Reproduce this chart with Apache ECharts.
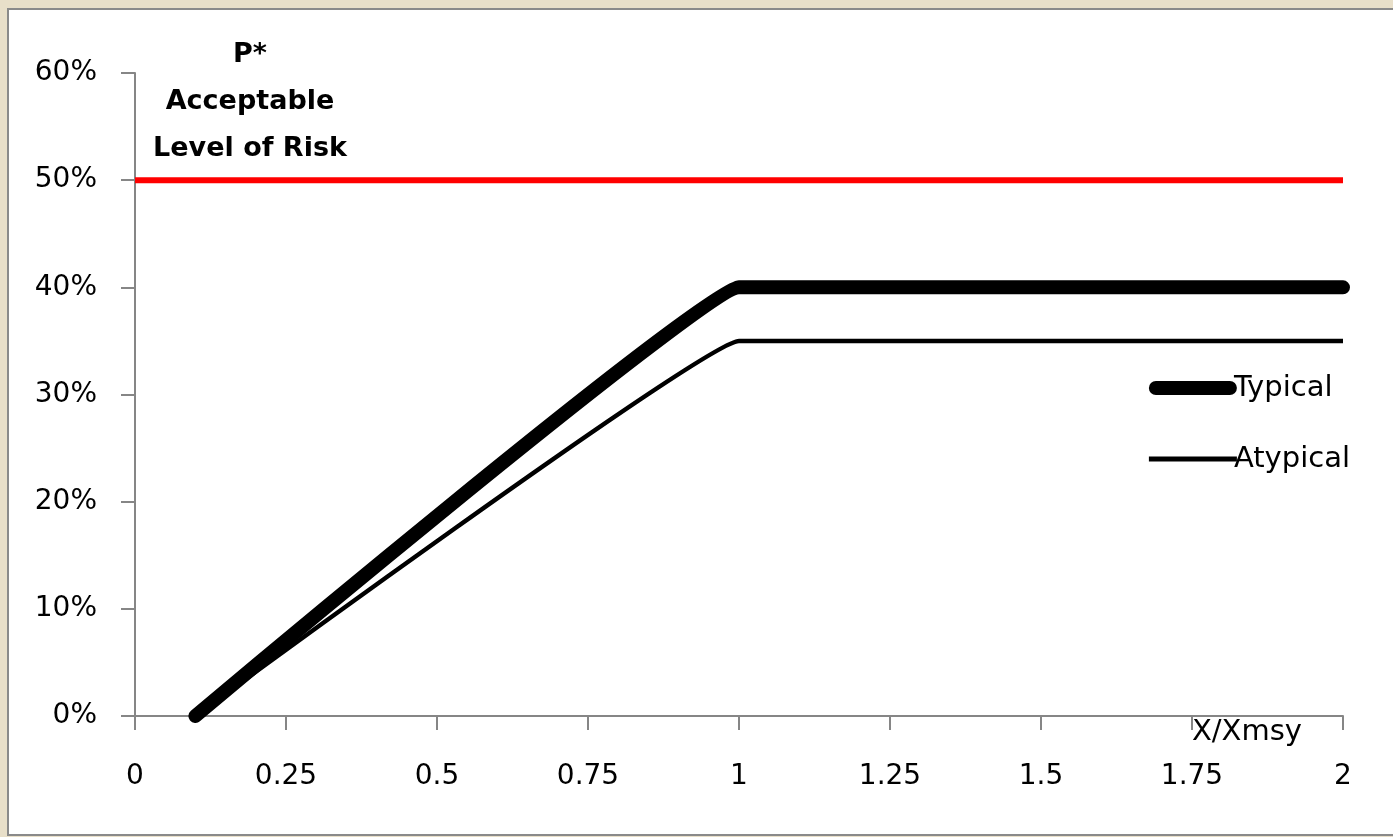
<!DOCTYPE html>
<html>
<head>
<meta charset="utf-8">
<script src="https://cdn.jsdelivr.net/npm/echarts@6/dist/echarts.min.js"></script>
<style>
  html, body { margin: 0; padding: 0; background: #e8dfc9; }
  #panel { position: absolute; left: 7px; top: 8px; width: 1400px; height: 828px;
           background: #ffffff; border: 2px solid #8a8a8a; box-sizing: border-box; }
  #chart { position: absolute; left: 0; top: 0; width: 1393px; height: 837px; }
</style>
</head>
<body>
<div id="panel"></div>
<div id="chart"></div>
<script>
// X/Xmsy ratio and probability of overfishing
const xTicks = [0, 0.25, 0.5, 0.75, 1, 1.25, 1.5, 1.75, 2];
const yTicks = [0, 0.1, 0.2, 0.3, 0.4, 0.5, 0.6];
const typicalX = [0.1, 1.0, 1.1, 2.0];
const typicalY = [0.0, 0.40, 0.40, 0.40];
const atypicalX = [0.1, 1.0, 1.1, 2.0];
const atypicalY = [0.0, 0.35, 0.35, 0.35];
const pStarX = [0, 2];
const pStarY = [0.5, 0.5];
const pStarLabel = 'P*\nAcceptable\nLevel of Risk';

const zip = (xs, ys) => xs.map((x, i) => [x, ys[i]]);
const font = '"DejaVu Sans", Verdana, sans-serif';
const axisGray = '#868686';

const chart = echarts.init(document.getElementById('chart'));
chart.setOption({
  animation: false,
  grid: { left: 135, top: 73, right: 50, bottom: 121, containLabel: false },
  xAxis: {
    type: 'value', min: xTicks[0], max: xTicks[xTicks.length - 1], interval: 0.25,
    name: 'X/Xmsy', nameLocation: 'end', nameGap: 0,
    nameTextStyle: { fontFamily: font, fontSize: 29, color: '#000', align: 'right',
                     verticalAlign: 'top', padding: [2, 41, 0, 0] },
    axisLine: { lineStyle: { color: axisGray, width: 2 } },
    axisTick: { show: true, length: 14, inside: false, lineStyle: { color: axisGray, width: 2 } },
    axisLabel: { margin: 47, fontFamily: font, fontSize: 28, color: '#000',
                 formatter: v => String(v) },
    splitLine: { show: false }
  },
  yAxis: {
    type: 'value', min: yTicks[0], max: yTicks[yTicks.length - 1], interval: 0.1,
    axisLine: { show: true, lineStyle: { color: axisGray, width: 2 } },
    axisTick: { show: true, length: 14, lineStyle: { color: axisGray, width: 2 } },
    axisLabel: { margin: 38, fontFamily: font, fontSize: 28, color: '#000',
                 formatter: v => Math.round(v * 100) + '%' },
    splitLine: { show: false }
  },
  legend: {
    orient: 'vertical', right: 38, top: 368, itemGap: 41,
    itemWidth: 88, itemHeight: 14,
    data: [
      { name: 'Typical', icon: 'path://M7,0 L81,0 A7,7 0 0 1 81,14 L7,14 A7,7 0 0 1 7,0 Z',
        symbolKeepAspect: true },
      { name: 'Atypical', icon: 'path://M6,0 L88,0 L88,4.5 L6,4.5 Z', symbolKeepAspect: true }
    ],
    textStyle: { fontFamily: font, fontSize: 29, lineHeight: 30, color: '#000',
                 padding: [0, 0, 0, -8] }
  },
  graphic: [{
    type: 'text', x: 250, y: 31,
    style: { text: pStarLabel, fontFamily: font, fontSize: 27, fontWeight: 'bold',
             fill: '#000', lineHeight: 47, align: 'center', verticalAlign: 'top' }
  }],
  series: [
    {
      name: 'P*', type: 'line', data: zip(pStarX, pStarY), symbol: 'none',
      lineStyle: { color: '#ff0000', width: 6 }, z: 1
    },
    {
      name: 'Typical', type: 'line', data: zip(typicalX, typicalY), symbol: 'none',
      smooth: 0.06, lineStyle: { color: '#000', width: 14, cap: 'round', join: 'round' },
      itemStyle: { color: '#000' }
    },
    {
      name: 'Atypical', type: 'line', data: zip(atypicalX, atypicalY), symbol: 'none',
      smooth: 0.06, lineStyle: { color: '#000', width: 4.5, join: 'round' },
      itemStyle: { color: '#000' }
    }
  ]
});
</script>
</body>
</html>
